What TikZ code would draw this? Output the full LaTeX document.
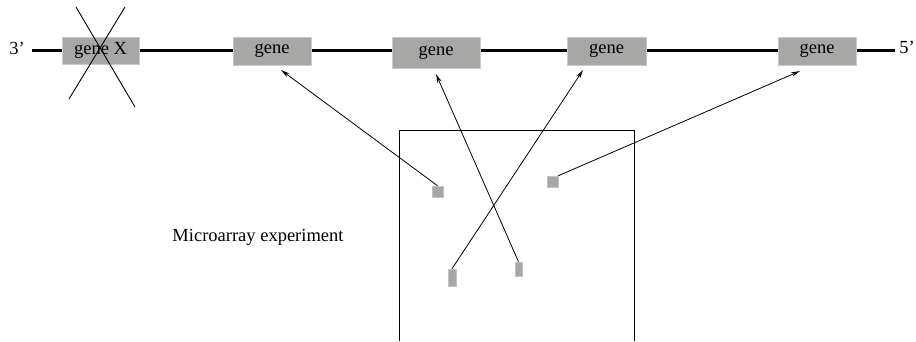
\documentclass[tikz,border=0pt]{standalone}
\usepackage{fontspec}
\setmainfont{Liberation Serif}
\usetikzlibrary{arrows.meta}
\definecolor{genegray}{RGB}{167,168,165}
\begin{document}
\begin{tikzpicture}[x=1pt,y=-1pt,
  genebox/.style={rectangle,fill=genegray,draw=genegray!60!white,line width=0.6pt,inner sep=0pt,
    minimum width=78pt,minimum height=28pt,font=\fontsize{18.5}{20}\selectfont},
  spot/.style={rectangle,fill=genegray,draw=genegray!70!white,line width=0.5pt,inner sep=0pt},
  lbl/.style={font=\fontsize{18.5}{20}\selectfont,inner sep=0pt},
  arr/.style={line width=0.8pt,-{Stealth[open,length=9pt,width=4.5pt]}},
  thin/.style={line width=0.9pt}]
\useasboundingbox (0,0) rectangle (916,341);
% chromosome line
\coordinate (lstart) at (32,50.5);
\coordinate (lend) at (895,50.5);
\draw[line width=2.2pt] (lstart) -- (lend);
% genes
\node[genebox,minimum width=77pt,minimum height=27pt] (gX) at (100.5,50.5) {gene X};
\node[genebox] (g1) at (272,51) {gene};
\node[genebox,minimum width=88pt,minimum height=31pt] (g2) at (436,52.5) {gene};
\node[genebox,minimum width=79pt] (g3) at (606.5,51) {gene};
\node[genebox] (g4) at (817,51) {gene};
\node[lbl] (t3) at (17,48) {3’};
\node[lbl] (t5) at (907,47) {5’};
% cross
\coordinate (c1a) at (76,7);
\coordinate (c1b) at (135,107);
\coordinate (c2a) at (125,7);
\coordinate (c2b) at (69,99);
\draw[thin] (c1a) -- (c1b);
\draw[thin] (c2a) -- (c2b);
% microarray box
\coordinate (m1) at (399,341);
\coordinate (m2) at (399,130);
\coordinate (m3) at (634,130);
\coordinate (m4) at (634,341);
\draw[thin] (m1) -- (m2) -- (m3) -- (m4);
\node[lbl] (mlabel) at (258,237) {Microarray experiment};
% spots
\node[spot,minimum width=11pt,minimum height=11pt] (sA) at (437.5,191.5) {};
\node[spot,minimum width=11pt,minimum height=11pt] (sB) at (552.5,181.5) {};
\node[spot,minimum width=8pt,minimum height=17pt] (sC) at (452,277.5) {};
\node[spot,minimum width=7pt,minimum height=14pt] (sD) at (518.5,269) {};
% arrow tips
\coordinate (tA) at (281,70);
\coordinate (tD) at (436,74);
\coordinate (tC) at (583,70);
\coordinate (tB) at (800,71);
\draw[arr] (sA.north) -- (tA);
\draw[arr] (sD.north) -- (tD);
\draw[arr] (sC.north) -- (tC);
\draw[arr] (sB.north east) -- (tB);
\end{tikzpicture}
\end{document}
